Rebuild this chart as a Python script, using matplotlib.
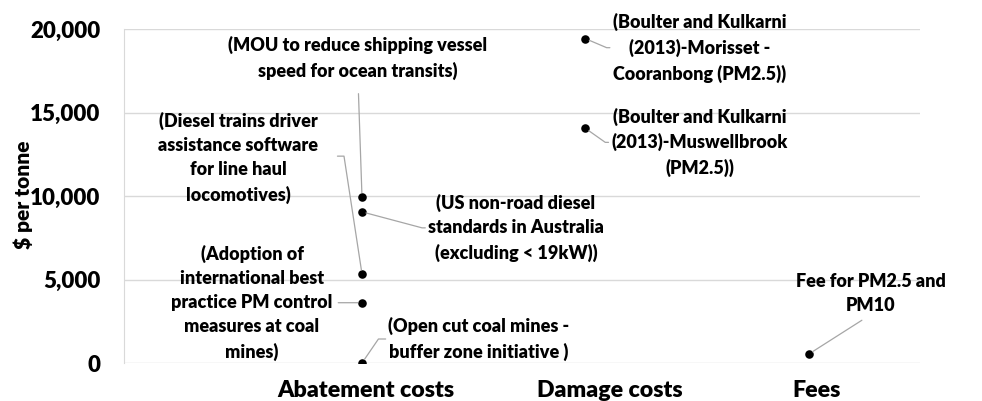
import matplotlib
matplotlib.use("Agg")
import matplotlib.pyplot as plt

# categories and their x positions (scatter uses 1, 2, 3)
categories = ["Abatement costs", "Damage costs", "Fees"]
cat_x = [1, 2, 3]

# $ per tonne values
abatement_labels = [
    "(MOU to reduce shipping vessel\nspeed for ocean transits)",
    "(US non-road diesel\nstandards in Australia\n(excluding < 19kW))",
    "(Diesel trains driver\nassistance software\nfor line haul\nlocomotives)",
    "(Adoption of\ninternational best\npractice PM control\nmeasures at coal\nmines)",
    "(Open cut coal mines -\nbuffer zone initiative )",
]
abatement_values = [9950, 9050, 5330, 3610, 0]

damage_labels = [
    "(Boulter and Kulkarni\n(2013)-Morisset -\nCooranbong (PM2.5))",
    "(Boulter and Kulkarni\n(2013)-Muswellbrook\n(PM2.5))",
]
damage_values = [19420, 14050]

fee_labels = ["Fee for PM2.5 and\nPM10"]
fee_values = [540]

yticks = [0, 5000, 10000, 15000, 20000]

# label placement: (dx, dy) in pixels from the point, relpos, connection
label_style = [
    ((-4, 139), (0.5, 0.0), "arc3,rad=0", 8),
    ((154, -16), (0.0, 0.5), "arc,angleA=180,armA=6,angleB=0,armB=0,rad=0", 0),
    ((-124, 116), (1.0, 0.52), "arc,angleA=0,armA=26,angleB=0,armB=0,rad=0", 12),
    ((-110, 0), (1.0, 0.5), "arc3,rad=0", 2),
    ((117, 24), (0.0, 0.5), "arc,angleA=180,armA=10,angleB=0,armB=0,rad=0", 0),
    ((114, -9), (0.0, 0.5), "arc,angleA=180,armA=6,angleB=0,armB=0,rad=0", 0),
    ((114, -14), (0.0, 0.5), "arc,angleA=180,armA=6,angleB=0,armB=0,rad=0", 0),
    ((62, 60), (0.5, 0.0), "arc3,rad=0", 4),
]

plt.rcParams["font.family"] = ["Lato", "DejaVu Sans"]
plt.rcParams["font.weight"] = "heavy"

fig = plt.figure(figsize=(9.82, 4.01), dpi=100)
ax = fig.add_axes([124 / 982, 1 - 363 / 401, 796 / 982, 334 / 401])

xs = [cat_x[0]] * len(abatement_values) + [cat_x[1]] * len(damage_values) + [cat_x[2]] * len(fee_values)
ys = abatement_values + damage_values + fee_values
labels = abatement_labels + damage_labels + fee_labels

ax.scatter(xs, ys, s=38, color="black", zorder=3, linewidths=0)

for x, y, lab, (off, rel, conn, shA) in zip(xs, ys, labels, label_style):
    ax.annotate(lab, xy=(x, y), xytext=off, textcoords="offset pixels",
                ha="center", va="center", fontsize=13, fontweight="heavy",
                linespacing=1.5, color="#000000",
                arrowprops=dict(arrowstyle="-", color="#a6a6a6", lw=0.9,
                                relpos=rel, connectionstyle=conn,
                                shrinkA=shA, shrinkB=3))

ax.set_xlim(-0.065, 3.497)
ax.set_ylim(0, 20000)
ax.set_yticks(yticks)
ax.set_yticklabels([f"{v:,}" for v in yticks], fontsize=16, fontweight="heavy")
ax.set_xticks([1.018, 2.11, 3.036])
ax.set_xticklabels(categories, fontsize=16.7, fontweight="heavy")
ax.tick_params(axis="both", length=0)
ax.tick_params(axis="y", pad=17)
ax.tick_params(axis="x", pad=12)
ax.set_ylabel("$ per tonne", fontsize=15, fontweight="heavy")
ax.yaxis.set_label_coords(-0.1143, 0.503)

ax.grid(axis="y", color="#d9d9d9", lw=1)
ax.set_axisbelow(True)
for side in ["top", "right", "bottom"]:
    ax.spines[side].set_visible(False)
ax.spines["left"].set_color("#d9d9d9")

fig.savefig("out.png", dpi=100)
